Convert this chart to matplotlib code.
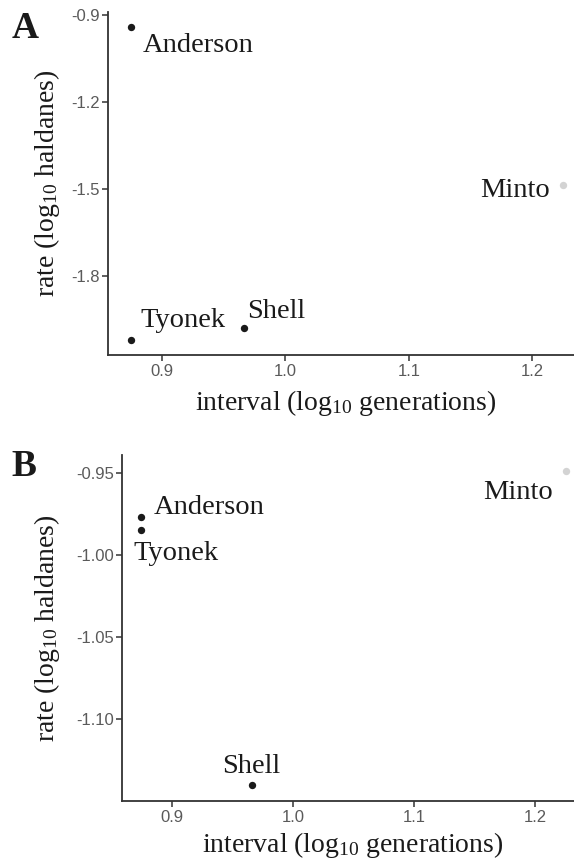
import numpy as np
import matplotlib
matplotlib.use("Agg")
import matplotlib.pyplot as plt

# data
sites = ["Anderson", "Tyonek", "Shell", "Minto"]
interval = [0.875, 0.875, 0.966, 1.225]           # log10 generations
rate_a = [-0.941, -2.020, -1.979, -1.486]         # panel A, log10 haldanes
rate_b = [-0.977, -0.985, -1.140, -0.949]         # panel B, log10 haldanes

plt.rcParams["font.family"] = "Liberation Serif"
plt.rcParams["mathtext.fontset"] = "custom"
plt.rcParams["mathtext.rm"] = "Liberation Serif"
plt.rcParams["mathtext.it"] = "Liberation Serif:italic"
plt.rcParams["axes.unicode_minus"] = False

pt_col = {"Anderson": "#1a1a1a", "Tyonek": "#1a1a1a", "Shell": "#1a1a1a", "Minto": "#d3d3d3"}

# label offsets in pixels (dx, dy to baseline, ha)
offs_a = {"Anderson": (11, -25, "left"), "Tyonek": (9, 13, "left"),
          "Shell": (4, 10, "left"), "Minto": (-13, -12, "right")}
offs_b = {"Anderson": (12, 3, "left"), "Tyonek": (-8, -30, "left"),
          "Shell": (0, 12, "center"), "Minto": (-13, -28, "right")}

fig = plt.figure(figsize=(5.74, 8.59), dpi=100)
ax1 = fig.add_axes([0.188, 0.5867, 0.812, 0.3993])
ax2 = fig.add_axes([0.2125, 0.0675, 0.7875, 0.4028])


def panel(ax, y, offs, yticks, ylim, xlim, fmt, letter, lpos, xl_y, yl_x):
    for s, xx, yy in zip(sites, interval, y):
        ax.scatter(xx, yy, s=28, color=pt_col[s], zorder=3, linewidths=0)
        dx, dy, ha = offs[s]
        ax.annotate(s, (xx, yy), xytext=(dx, dy), textcoords="offset pixels",
                    ha=ha, va="baseline", fontsize=20.5, color="#1a1a1a")
    ax.set_xlim(*xlim)
    ax.set_ylim(*ylim)
    ax.set_xticks([0.9, 1.0, 1.1, 1.2])
    ax.set_xticklabels(["0.9", "1.0", "1.1", "1.2"])
    ax.set_yticks(yticks)
    ax.set_yticklabels([fmt % v for v in yticks])
    for sp in ["top", "right"]:
        ax.spines[sp].set_visible(False)
    for sp in ["left", "bottom"]:
        ax.spines[sp].set_color("#333333")
        ax.spines[sp].set_linewidth(1.3)
    ax.tick_params(direction="out", length=4, width=1.1, color="#333333",
                   labelcolor="#5a5a5a", labelsize=12)
    ax.tick_params(axis="x", pad=2.5)
    ax.tick_params(axis="y", pad=2)
    for lab in ax.get_xticklabels() + ax.get_yticklabels():
        lab.set_family("Liberation Sans")
    ax.set_xlabel("interval (log$_{10}$ generations)", fontsize=20, color="#1a1a1a")
    ax.set_ylabel("rate (log$_{10}$ haldanes)", fontsize=20, color="#1a1a1a")
    ax.xaxis.set_label_coords(0.511, xl_y)
    ax.xaxis.label.set_va("center")
    ax.yaxis.set_label_coords(yl_x, 0.5)
    ax.yaxis.label.set_va("center")
    fig.text(lpos[0], lpos[1], letter, fontsize=27, fontweight="bold", color="#1a1a1a",
             ha="center", va="center")


panel(ax1, rate_a, offs_a, [-0.9, -1.2, -1.5, -1.8], (-2.072, -0.89), (0.856, 1.234),
      "%.1f", "A", (0.0436, 0.967), -0.14, -0.131)
panel(ax2, rate_b, offs_b, [-0.95, -1.00, -1.05, -1.10], (-1.150, -0.939), (0.859, 1.232),
      "%.2f", "B", (0.041, 0.4575), -0.127, -0.166)

fig.savefig("out.png", dpi=100)
